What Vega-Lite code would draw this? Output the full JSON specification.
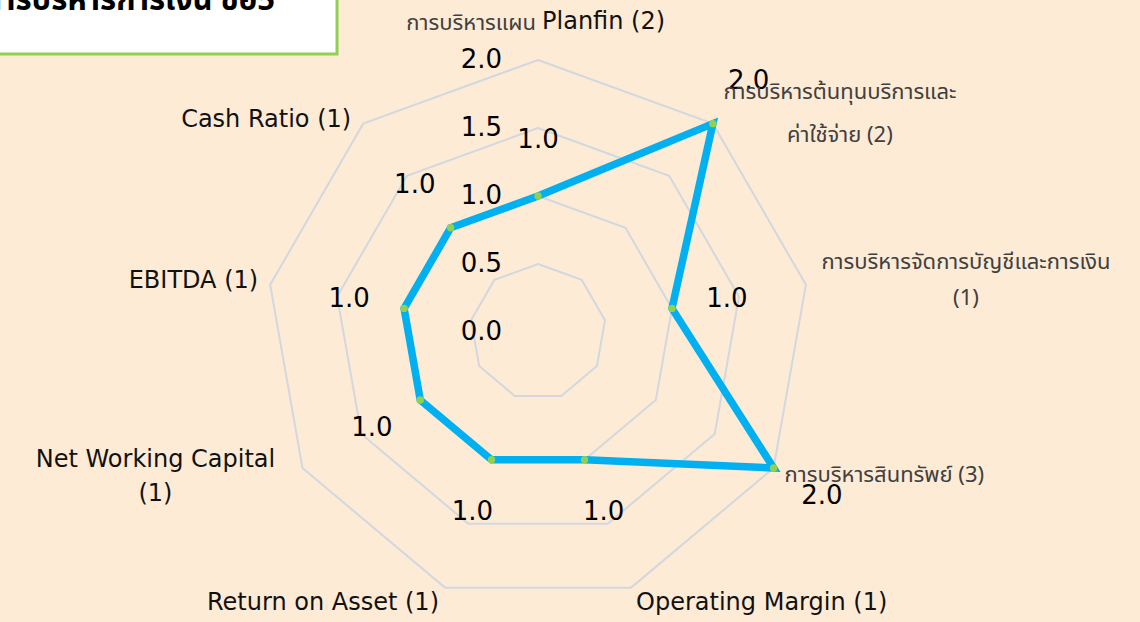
{
  "$schema": "https://vega.github.io/schema/vega-lite/v6.json",
  "width": 1140,
  "height": 622,
  "autosize": {"type": "fit", "contains": "padding"},
  "padding": 0,
  "background": "#FDEBD6",
  "config": {"view": {"stroke": null}},
  "datasets": {
    "scores": [
      {"i": 0, "th": "การบริหารแผน", "en": "Planfin (2)", "score": 1.0},
      {"i": 1, "th": "การบริหารต้นทุนบริการและ\nค่าใช้จ่าย (2)", "en": "", "score": 2.0},
      {"i": 2, "th": "การบริหารจัดการบัญชีและการเงิน\n(1)", "en": "", "score": 1.0},
      {"i": 3, "th": "การบริหารสินทรัพย์ (3)", "en": "", "score": 2.0},
      {"i": 4, "th": "", "en": "Operating Margin (1)", "score": 1.0},
      {"i": 5, "th": "", "en": "Return on Asset (1)", "score": 1.0},
      {"i": 6, "th": "", "en": "Net Working Capital\n(1)", "score": 1.0},
      {"i": 7, "th": "", "en": "EBITDA (1)", "score": 1.0},
      {"i": 8, "th": "", "en": "Cash Ratio (1)", "score": 1.0}
    ],
    "rings": [
      {"level": 0.5, "k": [0, 1, 2, 3, 4, 5, 6, 7, 8]},
      {"level": 1.0, "k": [0, 1, 2, 3, 4, 5, 6, 7, 8]},
      {"level": 1.5, "k": [0, 1, 2, 3, 4, 5, 6, 7, 8]},
      {"level": 2.0, "k": [0, 1, 2, 3, 4, 5, 6, 7, 8]}
    ],
    "ticks": [
      {"level": 0.0},
      {"level": 0.5},
      {"level": 1.0},
      {"level": 1.5},
      {"level": 2.0}
    ],
    "note": [{"title": "การบริหารการเงิน ข้อ5"}]
  },
  "layer": [
    {
      "data": {"name": "rings"},
      "transform": [
        {"flatten": ["k"]},
        {"calculate": "datum.level*sin(datum.k*2*PI/9)", "as": "px"},
        {"calculate": "datum.level*cos(datum.k*2*PI/9)", "as": "py"}
      ],
      "mark": {"type": "line", "interpolate": "linear-closed", "stroke": "#D2D8DE", "strokeWidth": 2},
      "encoding": {
        "x": {"field": "px", "type": "quantitative", "scale": {"domain": [-3.956, 4.426], "nice": false, "zero": false}, "axis": null},
        "y": {"field": "py", "type": "quantitative", "scale": {"domain": [-2.132, 2.441], "nice": false, "zero": false}, "axis": null},
        "detail": {"field": "level", "type": "nominal"},
        "order": {"field": "k", "type": "quantitative"}
      }
    },
    {
      "data": {"name": "scores"},
      "transform": [
        {"calculate": "datum.score*sin(datum.i*2*PI/9)", "as": "px"},
        {"calculate": "datum.score*cos(datum.i*2*PI/9)", "as": "py"}
      ],
      "mark": {"type": "line", "interpolate": "linear-closed", "stroke": "#00B0F0", "strokeWidth": 7.5},
      "encoding": {
        "x": {"field": "px", "type": "quantitative", "scale": {"domain": [-3.956, 4.426], "nice": false, "zero": false}, "axis": null},
        "y": {"field": "py", "type": "quantitative", "scale": {"domain": [-2.132, 2.441], "nice": false, "zero": false}, "axis": null},
        "order": {"field": "i", "type": "quantitative"}
      }
    },
    {
      "data": {"name": "scores"},
      "transform": [
        {"calculate": "datum.score*sin(datum.i*2*PI/9)", "as": "px"},
        {"calculate": "datum.score*cos(datum.i*2*PI/9)", "as": "py"}
      ],
      "mark": {"type": "circle", "size": 55, "color": "#92D050", "opacity": 1},
      "encoding": {
        "x": {"field": "px", "type": "quantitative", "scale": {"domain": [-3.956, 4.426], "nice": false, "zero": false}, "axis": null},
        "y": {"field": "py", "type": "quantitative", "scale": {"domain": [-2.132, 2.441], "nice": false, "zero": false}, "axis": null}
      }
    },
    {
      "data": {"name": "scores"},
      "transform": [
        {"calculate": "(datum.score+0.41)*sin(datum.i*2*PI/9)", "as": "px"},
        {"calculate": "(datum.score+0.41)*cos(datum.i*2*PI/9)", "as": "py"}
      ],
      "mark": {"type": "text", "font": "DejaVu Sans", "fontSize": 26, "color": "#000000", "align": "center", "baseline": "middle"},
      "encoding": {
        "x": {"field": "px", "type": "quantitative", "scale": {"domain": [-3.956, 4.426], "nice": false, "zero": false}, "axis": null},
        "y": {"field": "py", "type": "quantitative", "scale": {"domain": [-2.132, 2.441], "nice": false, "zero": false}, "axis": null},
        "text": {"field": "score", "type": "quantitative", "format": ".1f"}
      }
    },
    {
      "data": {"name": "ticks"},
      "mark": {"type": "text", "font": "DejaVu Sans", "fontSize": 26, "color": "#000000", "align": "right", "baseline": "middle", "dx": -36},
      "encoding": {
        "x": {"datum": 0, "type": "quantitative", "scale": {"domain": [-3.956, 4.426], "nice": false, "zero": false}, "axis": null},
        "y": {"field": "level", "type": "quantitative", "scale": {"domain": [-2.132, 2.441], "nice": false, "zero": false}, "axis": null},
        "text": {"field": "level", "type": "quantitative", "format": ".1f"}
      }
    },
    {
      "data": {"name": "scores"},
      "transform": [
        {"calculate": "2*sin(datum.i*2*PI/9)", "as": "px"},
        {"calculate": "2*cos(datum.i*2*PI/9)", "as": "py"}
      ],
      "encoding": {
        "x": {"field": "px", "type": "quantitative", "scale": {"domain": [-3.956, 4.426], "nice": false, "zero": false}, "axis": null},
        "y": {"field": "py", "type": "quantitative", "scale": {"domain": [-2.132, 2.441], "nice": false, "zero": false}, "axis": null}
      },
      "layer": [
        {"transform": [{"filter": "datum.i == 0"}], "mark": {"type": "text", "font": "Tahoma, Noto Sans Thai, Loma, Garuda, sans-serif", "fontSize": 22, "color": "#404040", "align": "right", "baseline": "middle", "dx": -2, "dy": -37}, "encoding": {"text": {"field": "th"}}},
        {"transform": [{"filter": "datum.i == 0"}], "mark": {"type": "text", "font": "DejaVu Sans", "fontSize": 24, "color": "#111111", "align": "left", "baseline": "middle", "dx": 4, "dy": -38}, "encoding": {"text": {"field": "en"}}},
        {"transform": [{"filter": "datum.i == 1"}], "mark": {"type": "text", "font": "Tahoma, Noto Sans Thai, Loma, Garuda, sans-serif", "fontSize": 22, "color": "#404040", "align": "center", "baseline": "middle", "dx": 127, "dy": -32, "lineBreak": "\n", "lineHeight": 43}, "encoding": {"text": {"field": "th"}}},
        {"transform": [{"filter": "datum.i == 2"}], "mark": {"type": "text", "font": "Tahoma, Noto Sans Thai, Loma, Garuda, sans-serif", "fontSize": 22, "color": "#404040", "align": "center", "baseline": "middle", "dx": 160, "dy": -23, "lineBreak": "\n", "lineHeight": 36}, "encoding": {"text": {"field": "th"}}},
        {"transform": [{"filter": "datum.i == 3"}], "mark": {"type": "text", "font": "Tahoma, Noto Sans Thai, Loma, Garuda, sans-serif", "fontSize": 22, "color": "#404040", "align": "left", "baseline": "middle", "dx": 11, "dy": 7}, "encoding": {"text": {"field": "th"}}},
        {"transform": [{"filter": "datum.i == 4"}], "mark": {"type": "text", "font": "DejaVu Sans", "fontSize": 24, "color": "#111111", "align": "left", "baseline": "middle", "dx": 5, "dy": 15}, "encoding": {"text": {"field": "en"}}},
        {"transform": [{"filter": "datum.i == 5"}], "mark": {"type": "text", "font": "DejaVu Sans", "fontSize": 24, "color": "#111111", "align": "right", "baseline": "middle", "dx": -6, "dy": 15}, "encoding": {"text": {"field": "en"}}},
        {"transform": [{"filter": "datum.i == 6"}], "mark": {"type": "text", "font": "DejaVu Sans", "fontSize": 24, "color": "#111111", "align": "center", "baseline": "middle", "dx": -147, "dy": -8, "lineBreak": "\n", "lineHeight": 34}, "encoding": {"text": {"field": "en"}}},
        {"transform": [{"filter": "datum.i == 7 || datum.i == 8"}], "mark": {"type": "text", "font": "DejaVu Sans", "fontSize": 24, "color": "#111111", "align": "right", "baseline": "middle", "dx": -12, "dy": -4}, "encoding": {"text": {"field": "en"}}}
      ]
    },
    {
      "data": {"name": "note"},
      "mark": {"type": "rect", "fill": "#FFFFFF", "stroke": "#92D050", "strokeWidth": 3, "clip": true},
      "encoding": {
        "x": {"datum": -4.2, "type": "quantitative", "scale": {"domain": [-3.956, 4.426], "nice": false, "zero": false}, "axis": null},
        "x2": {"datum": -1.478},
        "y": {"datum": 2.7, "type": "quantitative", "scale": {"domain": [-2.132, 2.441], "nice": false, "zero": false}, "axis": null},
        "y2": {"datum": 2.044}
      }
    },
    {
      "data": {"name": "note"},
      "mark": {"type": "text", "font": "Tahoma, Noto Sans Thai, Loma, Garuda, sans-serif", "fontSize": 31, "fontWeight": "bold", "color": "#000000", "align": "right", "baseline": "alphabetic", "clip": true},
      "encoding": {
        "x": {"datum": -1.934, "type": "quantitative", "scale": {"domain": [-3.956, 4.426], "nice": false, "zero": false}, "axis": null},
        "y": {"datum": 2.368, "type": "quantitative", "scale": {"domain": [-2.132, 2.441], "nice": false, "zero": false}, "axis": null},
        "text": {"field": "title"}
      }
    }
  ]
}
